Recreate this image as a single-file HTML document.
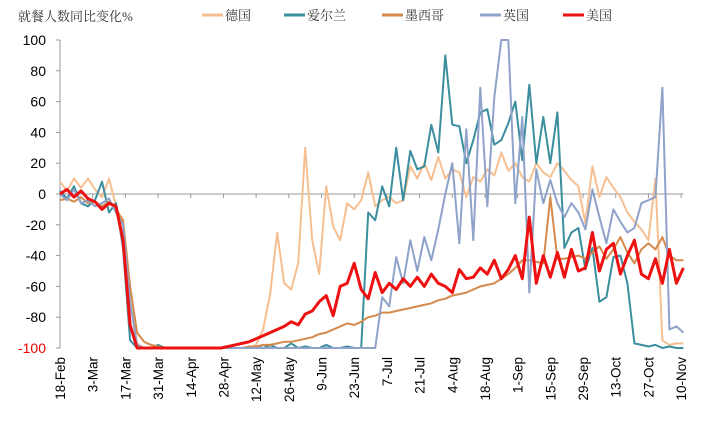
<!DOCTYPE html>
<html><head><meta charset="utf-8"><style>
body{margin:0;background:#fff;}
svg{display:block;font-family:"Liberation Sans","Noto Sans CJK SC",sans-serif;}
.cjk{font-family:"Liberation Serif","Noto Serif CJK SC",serif;}
</style></head><body>
<svg id="chart" width="708" height="431">
<text class="cjk" x="18" y="21" font-size="13" fill="#333">就餐人数同比变化%</text>
<g id="legend"></g>
<g id="axes"></g>
<defs><clipPath id="pc"><rect x="58" y="38" width="640" height="313"/></clipPath></defs>
<g id="series" clip-path="url(#pc)"></g>
</svg>
<script>
const dateLabels=["18-Feb","3-Mar","17-Mar","31-Mar","14-Apr","28-Apr","12-May","26-May","9-Jun","23-Jun","7-Jul","21-Jul","4-Aug","18-Aug","1-Sep","15-Sep","29-Sep","13-Oct","27-Oct","10-Nov"];
const yTicks=[100,80,60,40,20,0,-20,-40,-60,-80,-100];
const stepDays=3;
const germany=[8,2,10,4,10,3,-2,10,-8,-20,-70,-97,-100,-100,-100,-100,-100,-100,-100,-100,-100,-100,-100,-100,-100,-100,-100,-100,-98,-88,-65,-25,-58,-62,-45,30,-30,-52,5,-21,-30,-6,-10,-4,14,-8,-4,-2,-6,-4,18,10,20,9,24,10,16,14,-2,11,8,16,12,27,15,20,11,8,20,14,11,20,15,9,5,-19,18,-2,11,4,-2,-12,-18,-23,-30,10,-95,-98,-97,-97];
const ireland=[2,-3,5,-6,-8,-4,8,-12,-6,-35,-95,-100,-100,-100,-98,-100,-100,-100,-100,-100,-100,-100,-100,-100,-100,-100,-100,-100,-99,-100,-98,-100,-100,-97,-100,-99,-100,-100,-98,-100,-100,-99,-100,-100,-12,-17,5,-8,30,-4,28,16,18,45,27,90,45,44,20,35,53,55,32,35,46,60,22,71,20,50,20,53,-35,-25,-22,-49,-35,-70,-67,-41,-40,-58,-97,-98,-99,-98,-100,-99,-100,-100];
const mexico=[-4,-3,-5,-2,-6,-5,-8,-5,-10,-17,-60,-90,-96,-98,-99,-100,-100,-100,-100,-100,-100,-100,-100,-100,-100,-100,-100,-99,-99,-98,-98,-97,-96,-96,-95,-94,-93,-91,-90,-88,-86,-84,-85,-83,-80,-79,-77,-77,-76,-75,-74,-73,-72,-71,-69,-68,-66,-65,-64,-62,-60,-59,-58,-55,-52,-48,-43,-43,-44,-45,-2,-42,-42,-41,-40,-42,-38,-34,-42,-36,-28,-38,-45,-36,-32,-36,-28,-40,-43,-43];
const uk=[0,-4,3,-6,-4,-8,-6,-3,-12,-20,-70,-98,-100,-100,-100,-100,-100,-100,-100,-100,-100,-100,-100,-100,-100,-100,-100,-100,-100,-100,-100,-100,-100,-100,-100,-100,-100,-100,-100,-100,-100,-100,-100,-100,-100,-100,-67,-73,-41,-58,-30,-50,-28,-43,-23,0,20,-32,42,-30,69,-8,63,100,100,-6,50,-64,16,-6,9,-6,-15,-6,-12,-23,3,-15,-32,-10,-18,-25,-22,-6,-4,-2,69,-88,-86,-90];
const usa=[0,3,-2,2,-3,-5,-10,-6,-8,-30,-85,-100,-100,-100,-100,-100,-100,-100,-100,-100,-100,-100,-100,-100,-99,-98,-97,-96,-94,-92,-90,-88,-86,-83,-85,-78,-76,-70,-66,-79,-60,-58,-45,-62,-68,-51,-64,-58,-62,-55,-60,-54,-60,-52,-58,-60,-64,-49,-55,-54,-48,-52,-43,-55,-49,-40,-55,-15,-58,-40,-54,-38,-54,-36,-50,-48,-25,-50,-36,-32,-52,-40,-30,-52,-55,-42,-58,-36,-58,-48];
const seriesNames=["德国","爱尔兰","墨西哥","英国","美国"];
const seriesColors=["#f6bf91","#3a8e9e","#d38a4c","#8fa2c9","#ee1111"];
const seriesWidths=[2,2,2,2,3];
const seriesData=[germany,ireland,mexico,uk,usa];
const seriesKeys=["germany","ireland","mexico","uk","usa"];

const NS="http://www.w3.org/2000/svg";
const x0=60, pxPerDay=2.335;
const xDay=d=>x0+d*pxPerDay;
const yVal=v=>194-v*1.54;
function mk(tag,attrs,parent){const e=document.createElementNS(NS,tag);for(const k in attrs)e.setAttribute(k,attrs[k]);parent.appendChild(e);return e;}
const axes=document.getElementById('axes');
let yl=mk('line',{x1:x0,x2:x0,y1:yVal(100),y2:yVal(-100),stroke:'#999','stroke-width':1},axes);


yTicks.forEach(v=>{
  const t=mk('line',{x1:x0-4,x2:x0,y1:yVal(v),y2:yVal(v),stroke:'#999'},axes);
  
  
  const tx=mk('text',{x:46,y:yVal(v)+5,'text-anchor':'end','font-size':14,fill:v===-100?'#e00':'#000'},axes);
  tx.textContent=v;
  
  
});
const lastX=xDay((usa.length-1)*stepDays);
let zl=mk('line',{x1:x0,x2:lastX,y1:yVal(0),y2:yVal(0),stroke:'#999','stroke-width':1},axes);


dateLabels.forEach((lab,i)=>{
  const x=xDay(i*14);
  const t=mk('line',{x1:x,x2:x,y1:yVal(0),y2:yVal(0)+4,stroke:'#999'},axes);
  
  
  const tx=mk('text',{x:0,y:0,'text-anchor':'end','font-size':13.5,fill:'#000',transform:`translate(${x+5},357) rotate(-90)`},axes);
  tx.textContent=lab;
  
  
});
const sg=document.getElementById('series');
seriesData.forEach((arr,s)=>{
  const pts=arr.map((v,i)=>xDay(i*stepDays).toFixed(1)+','+yVal(v).toFixed(1)).join(' ');
  const p=mk('polyline',{points:pts,fill:'none',stroke:seriesColors[s],'stroke-width':seriesWidths[s],'stroke-linejoin':'round'},sg);
  
  
});
const lg=document.getElementById('legend');
const legX=[202,284,382,480,563];
seriesNames.forEach((n,s)=>{
  const l=mk('line',{x1:legX[s],x2:legX[s]+21,y1:15,y2:15,stroke:seriesColors[s],'stroke-width':3},lg);
  
  
  const t=mk('text',{x:legX[s]+23,y:20,'font-size':13,fill:'#333','class':'cjk'},lg);
  t.textContent=n;
  
  
});
</script>
</body></html>
